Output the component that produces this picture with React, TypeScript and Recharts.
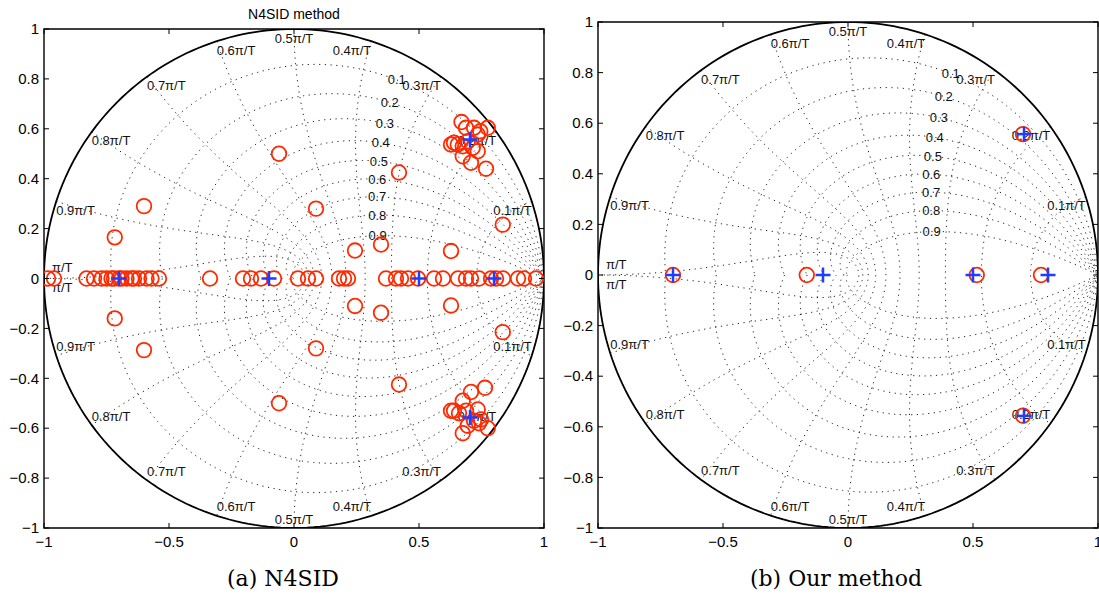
import React from "react";
import { ScatterChart, Scatter, XAxis, YAxis, ReferenceArea } from "recharts";

type Pt = { x: number; y: number };

const xTicks = [-1, -0.5, 0, 0.5, 1];
const yTicks = [-1, -0.8, -0.6, -0.4, -0.2, 0, 0.2, 0.4, 0.6, 0.8, 1];

// zgrid: damping ratios, where their labels sit (real part), natural frequencies (x pi/T)
const dampings = [0.1, 0.2, 0.3, 0.4, 0.5, 0.6, 0.7, 0.8, 0.9];
const dampLabelX = [0.41, 0.384, 0.363, 0.348, 0.339, 0.333, 0.332, 0.333, 0.334];
const freqs = [0.1, 0.2, 0.3, 0.4, 0.5, 0.6, 0.7, 0.8, 0.9, 1.0];

// true system poles (blue +), same in both panels
const truePoles: Pt[] = [
  { x: -0.7, y: 0 },
  { x: -0.1, y: 0 },
  { x: 0.5, y: 0 },
  { x: 0.8, y: 0 },
  { x: 0.704, y: 0.557 },
  { x: 0.704, y: -0.557 },
];

// N4SID estimates on the real axis
const n4sidRealX = [
  -0.984, -0.96, -0.83, -0.8, -0.77, -0.75, -0.73, -0.72, -0.7, -0.69, -0.67,
  -0.65, -0.64, -0.62, -0.59, -0.57, -0.54, -0.336, -0.204, -0.172, -0.132,
  -0.08, 0.016, 0.056, 0.088, 0.18, 0.2, 0.216, 0.368, 0.408, 0.428, 0.456,
  0.496, 0.56, 0.596, 0.656, 0.688, 0.708, 0.74, 0.788, 0.808, 0.836, 0.896,
  0.92, 0.968,
];

// N4SID complex estimates
const n4sidComplex: Pt[] = [
  { x: -0.06, y: 0.5 }, { x: -0.06, y: -0.5 },
  { x: -0.6, y: 0.29 }, { x: -0.6, y: -0.287 },
  { x: -0.717, y: 0.165 }, { x: -0.717, y: -0.16 },
  { x: 0.42, y: 0.425 }, { x: 0.42, y: -0.425 },
  { x: 0.088, y: 0.28 }, { x: 0.088, y: -0.28 },
  { x: 0.244, y: 0.112 }, { x: 0.244, y: -0.11 },
  { x: 0.348, y: 0.136 }, { x: 0.348, y: -0.137 },
  { x: 0.628, y: 0.11 }, { x: 0.628, y: -0.108 },
  { x: 0.835, y: 0.216 }, { x: 0.835, y: -0.215 },
];

const n4sidUpperCluster: Pt[] = [
  { x: 0.67, y: 0.627 }, { x: 0.688, y: 0.604 }, { x: 0.72, y: 0.604 },
  { x: 0.745, y: 0.59 }, { x: 0.775, y: 0.604 }, { x: 0.735, y: 0.577 },
  { x: 0.64, y: 0.544 }, { x: 0.655, y: 0.537 }, { x: 0.675, y: 0.53 },
  { x: 0.695, y: 0.55 }, { x: 0.715, y: 0.524 }, { x: 0.735, y: 0.51 },
  { x: 0.675, y: 0.49 }, { x: 0.708, y: 0.464 }, { x: 0.768, y: 0.44 },
  { x: 0.628, y: 0.537 },
];

const n4sidLowerCluster: Pt[] = [
  { x: 0.708, y: -0.455 }, { x: 0.764, y: -0.438 }, { x: 0.675, y: -0.49 },
  { x: 0.64, y: -0.53 }, { x: 0.66, y: -0.54 }, { x: 0.688, y: -0.53 },
  { x: 0.735, y: -0.525 }, { x: 0.748, y: -0.565 }, { x: 0.72, y: -0.57 },
  { x: 0.675, y: -0.62 }, { x: 0.775, y: -0.6 }, { x: 0.695, y: -0.59 },
  { x: 0.628, y: -0.53 }, { x: 0.74, y: -0.58 },
];

// our method's estimates
const ourPoles: Pt[] = [
  { x: -0.7, y: 0 },
  { x: -0.165, y: 0 },
  { x: 0.515, y: 0 },
  { x: 0.772, y: 0 },
  { x: 0.7, y: 0.557 },
  { x: 0.7, y: -0.556 },
];

const n4sidPoles: Pt[] = [
  ...n4sidRealX.map((x) => ({ x, y: 0 })),
  ...n4sidComplex,
  ...n4sidUpperCluster,
  ...n4sidLowerCluster,
];

const RED = "#ff2a00";
const BLUE = "#1f3cff";
const AXIS_FONT = "'Liberation Sans', Arial, Helvetica, sans-serif";

// ---- zgrid geometry ----
function dampingCurve(z: number): Pt[] {
  const m = z / Math.sqrt(1 - z * z);
  const pts: Pt[] = [];
  for (let i = -120; i <= 120; i++) {
    const th = (i / 120) * Math.PI;
    const r = Math.exp(-m * Math.abs(th));
    pts.push({ x: r * Math.cos(th), y: r * Math.sin(th) });
  }
  return pts;
}

function freqCurve(w: number): Pt[] {
  const wn = w * Math.PI;
  const up: Pt[] = [];
  for (let i = 0; i <= 60; i++) {
    const phi = (i / 60) * (Math.PI / 2);
    const r = Math.exp(-wn * Math.sin(phi));
    const a = wn * Math.cos(phi);
    up.push({ x: r * Math.cos(a), y: r * Math.sin(a) });
  }
  const down = up
    .slice()
    .reverse()
    .map((p) => ({ x: p.x, y: -p.y }));
  return [...up, ...down];
}

function unitCircle(): Pt[] {
  const pts: Pt[] = [];
  for (let i = 0; i <= 240; i++) {
    const a = (i / 240) * 2 * Math.PI;
    pts.push({ x: Math.cos(a), y: Math.sin(a) });
  }
  return pts;
}

type Lbl = Pt & { text: string; anchor: string; dx: number; dy: number };

function dampingLabels(): Lbl[] {
  return dampings.map((z, i) => {
    const m = z / Math.sqrt(1 - z * z);
    let best: Pt = { x: 1, y: 0 };
    let bestErr = 1e9;
    for (let k = 0; k <= 600; k++) {
      const th = (k / 600) * (Math.PI / 2);
      const r = Math.exp(-m * th);
      const p = { x: r * Math.cos(th), y: r * Math.sin(th) };
      const err = Math.abs(p.x - dampLabelX[i]);
      if (err < bestErr) {
        bestErr = err;
        best = p;
      }
    }
    return { ...best, text: String(z), anchor: "middle", dx: 0, dy: 0 };
  });
}

function freqLabels(): Lbl[] {
  const out: Lbl[] = [];
  freqs.forEach((w) => {
    const a = w * Math.PI;
    const c = Math.cos(a);
    const s = Math.sin(a);
    const text = w === 1 ? "\u03c0/T" : `${w}\u03c0/T`;
    const anchor = c > 0.05 ? "end" : c < -0.05 ? "start" : "middle";
    const dx = w === 1 ? 8 : 0;
    out.push({ x: c, y: s, text, anchor, dx, dy: w === 1 ? -11 : 9 });
    out.push({ x: c, y: -s, text, anchor, dx, dy: w === 1 ? 9 : -9 });
  });
  return out;
}

const fmt = (v: number) => (v < 0 ? `\u2212${Math.abs(v)}` : String(v));

const Nothing = () => <g />;

const LabelShape = (p: any) => {
  const d = p.payload as Lbl;
  return (
    <text
      x={p.cx + d.dx}
      y={p.cy + d.dy}
      textAnchor={d.anchor as any}
      dominantBaseline="central"
      fontSize={13}
      fontFamily={AXIS_FONT}
      fill="#111"
    >
      {d.text}
    </text>
  );
};

const CircleShape = (p: any) => (
  <circle cx={p.cx} cy={p.cy} r={7.3} fill="none" stroke={RED} strokeWidth={1.8} />
);

const PlusShape = (p: any) => (
  <g stroke={BLUE} strokeWidth={2.5}>
    <line x1={p.cx - 7.5} x2={p.cx + 7.5} y1={p.cy} y2={p.cy} />
    <line x1={p.cx} x2={p.cx} y1={p.cy - 7.5} y2={p.cy + 7.5} />
  </g>
);

const dotted = { stroke: "#222", strokeWidth: 1, strokeDasharray: "1.2 4.5" };

type PanelProps = {
  left: number;
  width: number;
  top: number;
  right: number;
  estimates: Pt[];
};

const PLOT_LEFT = 44;
const PLOT_BOTTOM = 528;
const CHART_H = 560;

const Panel: React.FC<PanelProps> = ({ left, width, top, right, estimates }) => {
  const plotRight = width - right;
  const dampCurves = dampings.map(dampingCurve);
  const freqCurvesData = freqs.map(freqCurve);

  const XTick = (p: any) => (
    <g>
      <line x1={p.x} x2={p.x} y1={PLOT_BOTTOM} y2={PLOT_BOTTOM - 5} stroke="#000" />
      <line x1={p.x} x2={p.x} y1={top} y2={top + 5} stroke="#000" />
      <text
        x={p.x}
        y={PLOT_BOTTOM + 19}
        textAnchor="middle"
        fontSize={15}
        fontFamily={AXIS_FONT}
        fill="#000"
      >
        {fmt(p.payload.value)}
      </text>
    </g>
  );

  const YTick = (p: any) => (
    <g>
      <line x1={PLOT_LEFT} x2={PLOT_LEFT + 5} y1={p.y} y2={p.y} stroke="#000" />
      <line x1={plotRight} x2={plotRight - 5} y1={p.y} y2={p.y} stroke="#000" />
      <text
        x={PLOT_LEFT - 5}
        y={p.y}
        dy="0.35em"
        textAnchor="end"
        fontSize={15}
        fontFamily={AXIS_FONT}
        fill="#000"
      >
        {fmt(p.payload.value)}
      </text>
    </g>
  );

  return (
    <div style={{ position: "absolute", left, top: 0, width, height: CHART_H }}>
      <ScatterChart
        width={width}
        height={CHART_H}
        margin={{ top, right, bottom: 2, left: 8 }}
      >
        <XAxis
          type="number"
          dataKey="x"
          domain={[-1, 1]}
          ticks={xTicks}
          interval={0}
          height={30}
          axisLine={false}
          tickLine={false}
          tick={XTick}
          allowDataOverflow
        />
        <YAxis
          type="number"
          dataKey="y"
          domain={[-1, 1]}
          ticks={yTicks}
          interval={0}
          width={36}
          axisLine={false}
          tickLine={false}
          tick={YTick}
          allowDataOverflow
        />
        {dampCurves.map((d, i) => (
          <Scatter
            key={`z${i}`}
            data={d}
            line={dotted}
            shape={Nothing}
            isAnimationActive={false}
          />
        ))}
        {freqCurvesData.map((d, i) => (
          <Scatter
            key={`w${i}`}
            data={d}
            line={dotted}
            shape={Nothing}
            isAnimationActive={false}
          />
        ))}
        <Scatter data={dampingLabels()} shape={LabelShape} isAnimationActive={false} />
        <Scatter data={freqLabels()} shape={LabelShape} isAnimationActive={false} />
        <Scatter
          data={unitCircle()}
          line={{ stroke: "#000", strokeWidth: 1.8 }}
          shape={Nothing}
          isAnimationActive={false}
        />
        <ReferenceArea
          x1={-1}
          x2={1}
          y1={-1}
          y2={1}
          fill="none"
          fillOpacity={0}
          stroke="#000"
          strokeWidth={1.4}
          ifOverflow="visible"
        />
        <Scatter data={estimates} shape={CircleShape} isAnimationActive={false} />
        <Scatter data={truePoles} shape={PlusShape} isAnimationActive={false} />
      </ScatterChart>
    </div>
  );
};

export default function App() {
  return (
    <div
      style={{
        position: "absolute",
        left: 0,
        top: 0,
        width: 1099,
        height: 599,
        background: "#fff",
        overflow: "hidden",
      }}
    >
      <div
        style={{
          position: "absolute",
          left: 0,
          width: 588,
          top: 6,
          textAlign: "center",
          fontFamily: AXIS_FONT,
          fontSize: 14,
          lineHeight: "16px",
        }}
      >
        N4SID method
      </div>
      <Panel left={0} width={560} top={29} right={16} estimates={n4sidPoles} />
      <Panel left={554} width={545} top={22} right={1} estimates={ourPoles} />
      <div
        style={{
          position: "absolute",
          left: 0,
          width: 566,
          top: 566,
          textAlign: "center",
          fontFamily: "'DejaVu Serif', serif",
          fontSize: 22,
          lineHeight: "26px",
        }}
      >
        (a) N4SID
      </div>
      <div
        style={{
          position: "absolute",
          left: 560,
          width: 552,
          top: 566,
          textAlign: "center",
          fontFamily: "'DejaVu Serif', serif",
          fontSize: 22,
          lineHeight: "26px",
        }}
      >
        (b) Our method
      </div>
    </div>
  );
}
